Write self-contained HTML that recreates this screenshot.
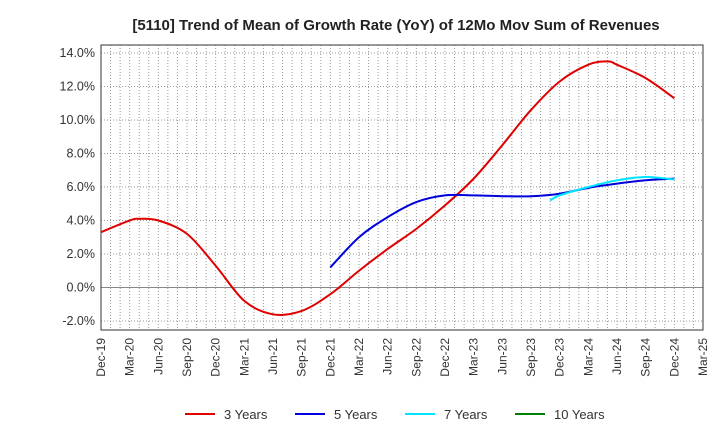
<!DOCTYPE html>
<html><head><meta charset="utf-8"><style>
body{margin:0;background:#fff;font-family:"Liberation Sans",sans-serif}
</style></head><body>
<svg id="c" width="720" height="440" xmlns="http://www.w3.org/2000/svg" font-family="Liberation Sans, sans-serif">
<text x="396" y="30" text-anchor="middle" font-size="15" font-weight="bold" fill="#222">[5110]  Trend of Mean of Growth Rate (YoY) of 12Mo Mov Sum of Revenues</text>
<g id="grid"></g><g id="axes"></g><g id="series"></g><g id="legend"></g>
</svg>
<script>
const xLabels=["Dec-19","Mar-20","Jun-20","Sep-20","Dec-20","Mar-21","Jun-21","Sep-21","Dec-21","Mar-22","Jun-22","Sep-22","Dec-22","Mar-23","Jun-23","Sep-23","Dec-23","Mar-24","Jun-24","Sep-24","Dec-24","Mar-25"];
const yTicks=[-2,0,2,4,6,8,10,12,14];
// month index from Dec-19
const m3=[0,3,4,6,9,12,15,18,21,24,27,30,33,36,39,42,45,48,51,53,54,57,60];
const v3=[3.3,4.0,4.1,4.0,3.2,1.3,-0.8,-1.6,-1.4,-0.4,1.0,2.3,3.5,4.9,6.5,8.5,10.6,12.3,13.3,13.5,13.3,12.5,11.3];
const m5=[24,27,30,33,36,39,42,45,48,51,54,57,60];
const v5=[1.2,3.0,4.2,5.1,5.5,5.5,5.45,5.45,5.6,5.95,6.2,6.4,6.5];
const m7=[47,48,51,54,57,60];
const v7=[5.2,5.5,6.0,6.4,6.6,6.45];
const m10=[];const v10=[];
const L=101,R=703,T=45,B=330;
const X=m=>L+m*(R-L)/63;
const Y=v=>287.5-v*16.75;
const NS="http://www.w3.org/2000/svg";
function mk(t,a,p){const e=document.createElementNS(NS,t);for(const k in a)e.setAttribute(k,a[k]);p.appendChild(e);return e;}
const g=document.getElementById('grid'),ax=document.getElementById('axes'),s=document.getElementById('series'),lg=document.getElementById('legend');
for(let m=1;m<63;m++){const l=mk('line',{x1:X(m),x2:X(m),y1:T,y2:B,stroke:'#999','stroke-dasharray':'1,2','stroke-width':1},g);

}
yTicks.forEach(v=>{const l=mk('line',{x1:L,x2:R,y1:Y(v),y2:Y(v),stroke:v===0?'#888':'#999','stroke-dasharray':v===0?'':'1,2'},g);


const t=mk('text',{x:L-6,y:Y(v)+4,'text-anchor':'end','font-size':12.5,fill:'#333'},ax);t.textContent=v.toFixed(1)+'%';

});
const f=mk('rect',{x:L,y:T,width:R-L,height:B-T,fill:'none',stroke:'#333'},ax);


xLabels.forEach((lab,i)=>{const x=X(i*3);const t=mk('text',{x:0,y:0,'text-anchor':'end','font-size':12,fill:'#333',transform:`translate(${x+4},${B+8}) rotate(-90)`},ax);t.textContent=lab;

});
function path(ms,vs){const p=ms.map((m,i)=>[X(m),Y(vs[i])]);if(p.length<2)return '';let d=`M${p[0][0]},${p[0][1]}`;
for(let i=0;i<p.length-1;i++){const p0=p[i-1]||p[i],p1=p[i],p2=p[i+1],p3=p[i+2]||p2;
d+=` C${p1[0]+(p2[0]-p0[0])/6},${p1[1]+(p2[1]-p0[1])/6} ${p2[0]-(p3[0]-p1[0])/6},${p2[1]-(p3[1]-p1[1])/6} ${p2[0]},${p2[1]}`;}return d;}
const ser=[[m3,v3,'#e00000','3 Years','line-3-years'],[m5,v5,'#0000dd','5 Years','line-5-years'],[m7,v7,'#00e5ff','7 Years','line-7-years'],[m10,v10,'#008000','10 Years','line-10-years']];
ser.forEach((se,i)=>{if(se[0].length>1){const p=mk('path',{d:path(se[0],se[1]),fill:'none',stroke:se[2],'stroke-width':2},s);

}
const lx=185+i*110;const ge=mk('g',{},lg);


mk('line',{x1:lx,x2:lx+30,y1:414,y2:414,stroke:se[2],'stroke-width':2},ge);
const t=mk('text',{x:lx+39,y:419,'font-size':13,fill:'#333'},ge);t.textContent=se[3];});
</script>
</body></html>
